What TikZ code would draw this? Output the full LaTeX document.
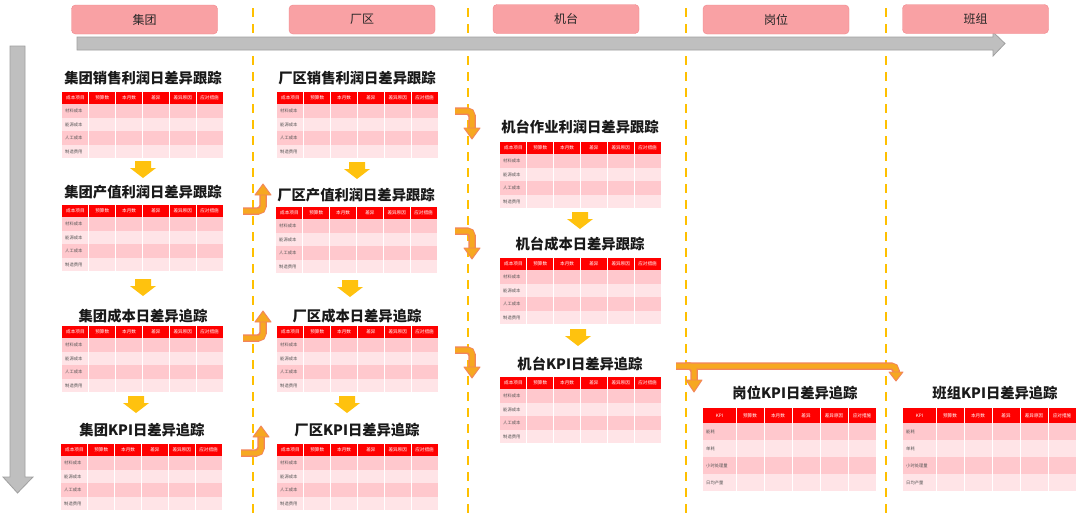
\documentclass[tikz,border=0pt]{standalone}
\usepackage{fontspec}
\setmainfont{Noto Sans CJK SC}
\usetikzlibrary{arrows.meta}
\definecolor{hdrpink}{HTML}{F9A1A4}
\definecolor{hdrpinkd}{HTML}{F0868B}
\definecolor{tred}{HTML}{FF0000}
\definecolor{rowa}{HTML}{FFC8CD}
\definecolor{rowb}{HTML}{FFE4E7}
\definecolor{dashy}{HTML}{FFC000}
\definecolor{garr}{HTML}{BFBFBF}
\definecolor{garrd}{HTML}{A0A0A0}
\definecolor{yarr}{HTML}{FFC20E}
\definecolor{orf}{HTML}{F6A821}
\definecolor{ore}{HTML}{F2845C}
\definecolor{lbl}{HTML}{555555}
\tikzset{
  phase/.style={draw=hdrpinkd, fill=hdrpink, rounded corners=4pt, minimum width=146pt, minimum height=29pt, inner sep=0pt, font=\fontsize{12}{14}\selectfont, text=black!85},
  ttl/.style={font=\fontsize{14.3}{16}\selectfont\bfseries, inner sep=0pt, text=black!90},
  htext/.style={font=\fontsize{4.6}{5}\selectfont, text=white, inner sep=0pt},
  ltext/.style={font=\fontsize{4.3}{5}\selectfont, text=lbl, inner sep=0pt, anchor=west},
  divline/.style={dashy, line width=2pt, dash pattern=on 9pt off 7pt},
  orout/.style={ore, line width=7.5pt, rounded corners=5pt},
  orin/.style={orf, line width=5pt, rounded corners=4pt},
  orhead/.style={fill=orf, draw=ore, line width=0.9pt, line join=round},
  ydown/.pic={\fill[yarr] (-8,0) -- (8,0) -- (8,7) -- (13,7) -- (0,17) -- (-13,7) -- (-8,7) -- cycle;},
  upbend/.pic={\draw[orout] (0,0) -- (20,0) -- (20,-16);
               \draw[orin] (0,0) -- (20,0) -- (20,-16.5);
               \draw[orhead] (12,-16) -- (28,-16) -- (20,-27) -- cycle;},
  downbend/.pic={\draw[orout] (0,0) -- (17,0) -- (17,17);
               \draw[orin] (0,0) -- (17,0) -- (17,17.5);
               \draw[orhead] (9,17) -- (25,17) -- (17,28) -- cycle;}
}
\newcommand\costtab[3]{%
 \begin{scope}[shift={(#2,#3)}]
  \fill[tred] (0,0) rectangle (161,12);
  \foreach \r/\c in {0/rowa,1/rowb,2/rowa,3/rowb}
    \fill[\c] (0,{12+13.6*\r}) rectangle (161,{12+13.6*(\r+1)});
  \foreach \i in {1,...,5}
    \draw[white,line width=0.7pt] ({26.83*\i},0) -- ({26.83*\i},66.4);
  \foreach \t [count=\i from 0] in {成本项目,预算数,本月数,差异,差异原因,应对措施}
    \node[htext] (#1h\i) at ({26.83*(\i+0.5)},6) {\t};
  \foreach \t [count=\i from 0] in {材料成本,能源成本,人工成本,制造费用}
    \node[ltext] (#1r\i) at (3,{12+13.6*(\i+0.5)}) {\t};
 \end{scope}}
\newcommand\kpitab[3]{%
 \begin{scope}[shift={(#2,#3)}]
  \fill[tred] (0,0) rectangle (173,15);
  \foreach \r/\c in {0/rowa,1/rowb,2/rowa,3/rowb}
    \fill[\c] (0,{15+17*\r}) rectangle (173,{15+17*(\r+1)});
  \foreach \xx in {33,61,89,117,145}
    \draw[white,line width=0.7pt] (\xx,0) -- (\xx,83);
  \node[htext] (#1h0) at (16.5,7.5) {KPI};
  \foreach \t [count=\i from 0] in {预算数,本月数,差异,差异原因,应对措施}
    \node[htext] (#1h\i x) at ({47+28*\i},7.5) {\t};
  \foreach \t [count=\i from 0] in {能耗,单耗,小时处理量,日均产量}
    \node[ltext] (#1r\i) at (3,{15+17*(\i+0.5)}) {\t};
 \end{scope}}
\begin{document}
\begin{tikzpicture}[x=1pt,y=-1pt]
\useasboundingbox (0,0) rectangle (1080,514);
\fill[white] (0,0) rectangle (1080,514);
% divider lines
\foreach \xx/\n in {253/a,468/b,686/c,886/d}
  \draw[divline] (\xx,8) coordinate (d\n top) -- (\xx,514) coordinate (d\n bot);
% gray arrows
\draw[fill=garr, draw=garrd, line width=0.8pt] (77,37) -- (993,37) -- (993,32) -- (1005,43.5) -- (993,56) -- (993,50) -- (77,50) -- cycle;
\draw[fill=garr, draw=garrd, line width=0.8pt] (10,46) -- (25,46) -- (25,477) -- (33,477) -- (17.5,493) -- (3,477) -- (10,477) -- cycle;
% phase headers
\node[phase] (p1) at (144.5,19.5) {集团};
\node[phase] (p2) at (362,19.5) {厂区};
\node[phase] (p3) at (566,19) {机台};
\node[phase] (p4) at (776,19.5) {岗位};
\node[phase] (p5) at (975.5,19) {班组};
% column 1
\node[ttl] (t11) at (143,78) {集团销售利润日差异跟踪};
\costtab{a}{62}{92}
\node[ttl] (t12) at (143,192) {集团产值利润日差异跟踪};
\costtab{b}{62}{205}
\node[ttl] (t13) at (143,316) {集团成本日差异追踪};
\costtab{c}{62}{326}
\node[ttl] (t14) at (142,430) {集团KPI日差异追踪};
\costtab{d}{61}{444}
\pic at (143,161) {ydown};
\pic at (143,279) {ydown};
\pic at (136,396) {ydown};
% column 2
\node[ttl] (t21) at (357,78) {厂区销售利润日差异跟踪};
\costtab{e}{277}{92}
\node[ttl] (t22) at (356,195) {厂区产值利润日差异跟踪};
\costtab{f}{276}{207}
\node[ttl] (t23) at (357,316) {厂区成本日差异追踪};
\costtab{g}{277}{326}
\node[ttl] (t24) at (357,430) {厂区KPI日差异追踪};
\costtab{h}{277}{444}
\pic at (357,162) {ydown};
\pic at (350,280) {ydown};
\pic at (347,396) {ydown};
% column 3
\node[ttl] (t31) at (580,127) {机台作业利润日差异跟踪};
\costtab{i}{500}{142}
\node[ttl] (t32) at (580,244) {机台成本日差异跟踪};
\costtab{j}{500}{258}
\node[ttl] (t33) at (580,364) {机台KPI日差异追踪};
\costtab{k}{500}{377}
\pic at (580,212) {ydown};
\pic at (578,329) {ydown};
% columns 4,5
\node[ttl] (t41) at (795,393) {岗位KPI日差异追踪};
\kpitab{m}{703}{408}
\node[ttl] (t51) at (995,393) {班组KPI日差异追踪};
\kpitab{n}{903}{408}
% orange bent arrows
\pic at (243,211) {upbend};
\pic at (243,338) {upbend};
\pic at (241,453) {upbend};
\pic at (455,111) {downbend};
\pic at (455,231) {downbend};
\pic at (455,350) {downbend};
\coordinate (lb) at (676,366);
\coordinate (lr) at (896,366);
\coordinate (lm) at (694,366);
\draw[orout] (lb) -- (lr) -- ++(0,6);
\draw[orout] (686,366) -- (lm) -- ++(0,14);
\draw[orin] (lb) -- (lr) -- ++(0,6.5);
\draw[orin] (686,366) -- (lm) -- ++(0,14.5);
\draw[orhead] (889,372) -- (903,372) -- (896,381) -- cycle;
\draw[orhead] (686,380) -- (702,380) -- (694,392) -- cycle;
\end{tikzpicture}
\end{document}
